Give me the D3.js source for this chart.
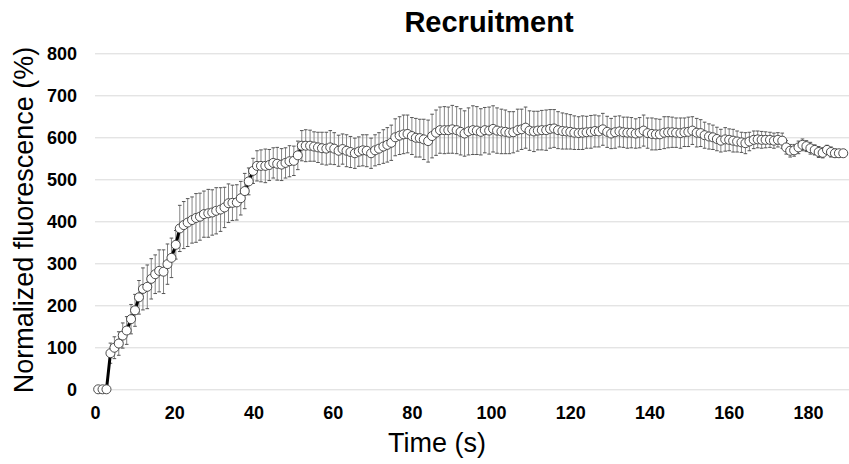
<!DOCTYPE html>
<html>
<head>
<meta charset="utf-8">
<title>Recruitment</title>
<script src="https://cdn.jsdelivr.net/npm/d3@7"></script>
<style>
  body { margin: 0; background: #fff; }
  svg { display: block; font-family: "Liberation Sans", Arial, sans-serif; }
</style>
</head>
<body>
<script>
// time of each frame (s)
const times = [
  0.8, 1.9, 2.9, 3.9, 4.9, 6.0, 7.0, 8.0, 9.1, 10.1,
  11.1, 12.1, 13.2, 14.2, 15.2, 16.2, 17.3, 18.3, 19.3, 20.4,
  21.4, 22.4, 23.4, 24.5, 25.5, 26.5, 27.5, 28.6, 29.6, 30.6,
  31.7, 32.7, 33.7, 34.7, 35.8, 36.8, 37.8, 38.8, 39.9, 40.9,
  41.9, 43.0, 44.0, 45.0, 46.0, 47.1, 48.1, 49.1, 50.2, 51.2,
  52.2, 53.2, 54.3, 55.3, 56.3, 57.3, 58.4, 59.4, 60.4, 61.5,
  62.5, 63.5, 64.5, 65.6, 66.6, 67.6, 68.6, 69.7, 70.7, 71.7,
  72.8, 73.8, 74.8, 75.8, 76.9, 77.9, 78.9, 80.0, 81.0, 82.0,
  83.0, 84.1, 85.1, 86.1, 87.1, 88.2, 89.2, 90.2, 91.3, 92.3,
  93.3, 94.3, 95.4, 96.4, 97.4, 98.4, 99.5, 100.5, 101.5, 102.6,
  103.6, 104.6, 105.6, 106.7, 107.7, 108.7, 109.7, 110.8, 111.8, 112.8,
  113.9, 114.9, 115.9, 116.9, 118.0, 119.0, 120.0, 121.0, 122.1, 123.1,
  124.1, 125.2, 126.2, 127.2, 128.2, 129.3, 130.3, 131.3, 132.4, 133.4,
  134.4, 135.4, 136.5, 137.5, 138.5, 139.5, 140.6, 141.6, 142.6, 143.7,
  144.7, 145.7, 146.7, 147.8, 148.8, 149.8, 150.8, 151.9, 152.9, 153.9,
  155.0, 156.0, 157.0, 158.0, 159.1, 160.1, 161.1, 162.1, 163.2, 164.2,
  165.2, 166.3, 167.3, 168.3, 169.3, 170.4, 171.4, 172.4, 173.5, 174.5,
  175.5, 176.5, 177.6, 178.6, 179.6, 180.6, 181.7, 182.7, 183.7, 184.8,
  185.8, 186.8, 187.8, 188.9
];

// mean normalized fluorescence (%)
const meanPct = [
  0, 0, 0, 86, 99, 109, 128, 140, 167, 188,
  219, 239, 244, 263, 274, 282, 280, 298, 313, 344,
  383, 391, 397, 403, 408, 411, 417, 419, 421, 425,
  428, 433, 443, 444, 445, 455, 472, 495, 520, 532,
  532, 532, 534, 539, 537, 535, 539, 543, 544, 557,
  580, 580, 580, 578, 576, 574, 573, 576, 573, 568,
  572, 568, 565, 562, 566, 569, 568, 562, 569, 573,
  578, 582, 587, 600, 604, 607, 608, 603, 599, 598,
  595, 591, 603, 611, 617, 617, 617, 619, 617, 613,
  609, 614, 617, 616, 613, 617, 616, 620, 616, 614,
  613, 611, 612, 617, 619, 623, 616, 614, 616, 617,
  617, 620, 621, 617, 615, 614, 613, 611, 610, 611,
  612, 613, 615, 614, 619, 613, 609, 612, 614, 612,
  611, 611, 609, 611, 616, 610, 608, 607, 607, 611,
  612, 612, 611, 610, 612, 613, 616, 611, 610, 605,
  602, 600, 596, 592, 595, 594, 592, 590, 588, 586,
  590, 594, 595, 594, 594, 594, 592, 594, 592, 576,
  568, 569, 576, 582, 579, 574, 570, 565, 563, 570,
  565, 562, 562, 562
];

// error (+/-, %)
const errPct = [
  0, 0, 0, 24, 26, 28, 30, 33, 35, 38,
  40, 50, 52, 48, 46, 50, 52, 48, 47, 34,
  55, 56, 57, 55, 58, 56, 55, 57, 54, 55,
  52, 48, 46, 42, 42, 40, 42, 32, 30, 36,
  38, 40, 37, 36, 39, 38, 36, 37, 35, 34,
  36, 38, 37, 35, 36, 38, 39, 40, 38, 37,
  36, 38, 37, 36, 35, 37, 38, 36, 37, 38,
  40, 41, 42, 44, 45, 46, 45, 44, 46, 45,
  48, 50, 52, 54, 55, 56, 55, 57, 56, 55,
  54, 56, 58, 57, 55, 54, 56, 55, 54, 53,
  52, 50, 49, 50, 48, 49, 47, 48, 46, 47,
  48, 46, 45, 44, 43, 42, 41, 40, 39, 40,
  38, 39, 38, 37, 38, 37, 36, 38, 37, 36,
  37, 36, 35, 36, 37, 36, 38, 37, 36, 38,
  37, 36, 35, 36, 34, 35, 33, 34, 32, 31,
  30, 29, 28, 27, 28, 26, 27, 25, 24, 25,
  22, 21, 20, 20, 19, 18, 18, 17, 18, 16,
  15, 14, 15, 14, 13, 14, 12, 13, 12, 11,
  12, 10, 9, 8
];

const xTicks = [0, 20, 40, 60, 80, 100, 120, 140, 160, 180];
const yTicks = [0, 100, 200, 300, 400, 500, 600, 700, 800];

const W = 849, H = 464;
const left = 95;

const svg = d3.select("body").append("svg")
  .attr("width", W)
  .attr("height", H);

const x = d3.scaleLinear().domain([0, 180]).range([left, 808]);
const y = d3.scaleLinear().domain([0, 800]).range([389.3, 53.3]);

const data = times.map((t, i) => ({ t: t, v: meanPct[i], e: errPct[i] }));

// gridlines
svg.append("g")
  .attr("transform", "translate(" + left + ",0)")
  .call(d3.axisLeft(y).tickValues(yTicks).tickSize(-(W - left)).tickFormat(""))
  .call(g => g.select(".domain").remove())
  .call(g => g.selectAll(".tick line").attr("stroke", "#d9d9d9").attr("stroke-width", 1));

// y labels
svg.append("g")
  .attr("transform", "translate(" + left + ",0)")
  .call(d3.axisLeft(y).tickValues(yTicks).tickSize(0).tickPadding(18))
  .call(g => g.select(".domain").remove())
  .call(g => g.selectAll("text")
    .attr("fill", "#000")
    .style("font-size", "18px")
    .style("font-weight", "bold")
    .style("font-family", "'Liberation Sans', Arial, sans-serif"));

// x labels
svg.append("g")
  .attr("transform", "translate(0," + y(0) + ")")
  .call(d3.axisBottom(x).tickValues(xTicks).tickSize(0).tickPadding(17))
  .call(g => g.select(".domain").remove())
  .call(g => g.selectAll("text")
    .attr("fill", "#000")
    .style("font-size", "18px")
    .style("font-weight", "bold")
    .style("font-family", "'Liberation Sans', Arial, sans-serif"));

// error bars
const withErr = data.filter(d => d.e > 0);
const eb = svg.append("g");
eb.selectAll("line.v").data(withErr).enter().append("line")
  .attr("stroke", "#858585").attr("stroke-width", 1)
  .attr("x1", d => x(d.t)).attr("x2", d => x(d.t))
  .attr("y1", d => y(d.v - d.e)).attr("y2", d => y(d.v + d.e));
eb.selectAll("line.top").data(withErr).enter().append("line")
  .attr("stroke", "#555").attr("stroke-width", 1)
  .attr("x1", d => x(d.t) - 1.8).attr("x2", d => x(d.t) + 1.8)
  .attr("y1", d => y(d.v + d.e)).attr("y2", d => y(d.v + d.e));
eb.selectAll("line.bot").data(withErr).enter().append("line")
  .attr("stroke", "#555").attr("stroke-width", 1)
  .attr("x1", d => x(d.t) - 1.8).attr("x2", d => x(d.t) + 1.8)
  .attr("y1", d => y(d.v - d.e)).attr("y2", d => y(d.v - d.e));

// mean line
svg.append("path")
  .datum(data)
  .attr("fill", "none")
  .attr("stroke", "#000")
  .attr("stroke-width", 3)
  .attr("d", d3.line().x(d => x(d.t)).y(d => y(d.v)));

// markers
svg.append("g").selectAll("circle")
  .data(data)
  .enter()
  .append("circle")
  .attr("cx", d => x(d.t))
  .attr("cy", d => y(d.v))
  .attr("r", 4.5)
  .attr("fill", "#fff")
  .attr("stroke", "#3a3a3a")
  .attr("stroke-width", 0.9);

// titles
svg.append("text")
  .attr("x", 489).attr("y", 32)
  .attr("text-anchor", "middle")
  .style("font-size", "29px")
  .style("font-weight", "bold")
  .text("Recruitment");

svg.append("text")
  .attr("x", 437).attr("y", 452)
  .attr("text-anchor", "middle")
  .style("font-size", "27px")
  .text("Time (s)");

svg.append("text")
  .attr("transform", "translate(33,220) rotate(-90)")
  .attr("text-anchor", "middle")
  .style("font-size", "27px")
  .text("Normalized fluorescence (%)");
</script>
</body>
</html>
